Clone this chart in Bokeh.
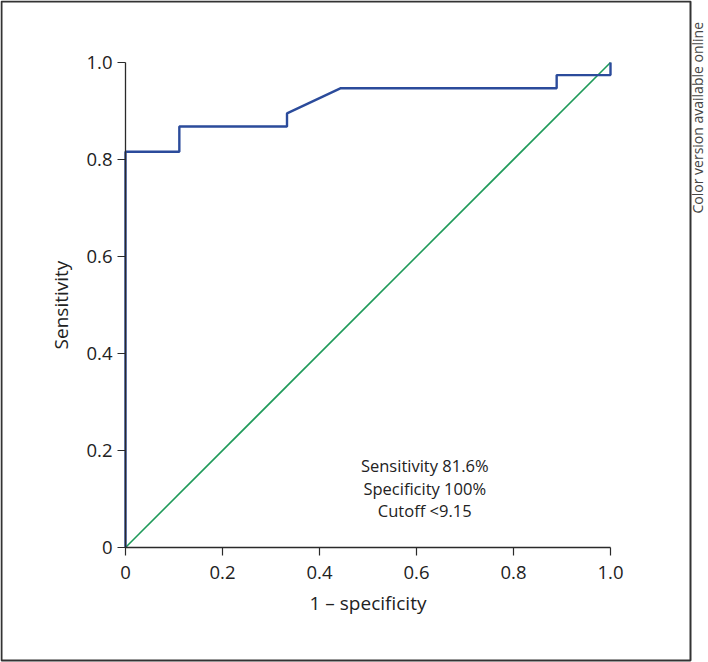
import math
from bokeh.plotting import figure
from bokeh.models import Range1d, FixedTicker, Label, BoxAnnotation
from bokeh.embed import file_html
from bokeh.resources import INLINE

# ROC curve (1 - specificity, sensitivity)
fpr = [0.0, 0.0, 0.111, 0.111, 0.333, 0.333, 0.444, 0.889, 0.889, 1.0, 1.0]
tpr = [0.0, 0.816, 0.816, 0.868, 0.868, 0.895, 0.947, 0.947, 0.974, 0.974, 1.0]
ref_x = [0.0, 1.0]
ref_y = [0.0, 1.0]
ticks = [0, 0.2, 0.4, 0.6, 0.8, 1.0]
tick_labels = {0: "0", 0.2: "0.2", 0.4: "0.4", 0.6: "0.6", 0.8: "0.8", 1.0: "1.0"}
annotation = ["Sensitivity 81.6%", "Specificity 100%", "Cutoff <9.15"]
side_note = "Color version available online"

FONT = "Open Sans"
W, H = 708, 662
# pixel layout targets of the data box (0..1 on both axes)
PL, PR, PT, PB = 125, 610, 62, 547
sx = (PR - PL)
sy = (PB - PT)
x0 = -PL / sx
x1 = (W - PL) / sx
y0 = -(H - PB) / sy
y1 = 1 + PT / sy

p = figure(width=W, height=H, output_backend="svg", toolbar_location=None,
           x_range=Range1d(x0, x1), y_range=Range1d(y0, y1),
           min_border_left=0, min_border_right=0, min_border_top=0, min_border_bottom=0)
p.outline_line_color = None
p.grid.visible = False
p.background_fill_color = "white"
p.border_fill_color = "white"

for ax in (p.xaxis[0], p.yaxis[0]):
    ax.ticker = FixedTicker(ticks=ticks)
    ax.major_label_overrides = tick_labels
    ax.bounds = (0, 1)
    ax.fixed_location = 0
    ax.axis_line_color = "#2a2a2a"
    ax.axis_line_width = 1.3
    ax.major_tick_line_color = "#2a2a2a"
    ax.major_tick_line_width = 1.2
    ax.major_tick_in = 0
    ax.major_tick_out = 8
    ax.minor_tick_line_color = None
    ax.major_label_text_font = FONT
    ax.major_label_text_font_size = "18.5px"
    ax.major_label_text_color = "#222222"
    ax.axis_label_text_font = FONT
    ax.axis_label_text_font_size = "19px"
    ax.axis_label_text_font_style = "normal"
    ax.axis_label_text_color = "#222222"

p.xaxis.axis_label = "1 \u2013 specificity"
p.yaxis.axis_label = "Sensitivity"
p.xaxis.major_label_standoff = 10
p.yaxis.major_label_standoff = 5
p.xaxis.axis_label_standoff = 8
p.yaxis.axis_label_standoff = 9

p.line(ref_x, ref_y, line_color="#1f9a5a", line_width=1.6)
p.line(fpr, tpr, line_color="#2b4b9b", line_width=2.4)

for i, t in enumerate(annotation):
    p.add_layout(Label(x=0.617, y=0.169 - i * 0.0465, text=t, text_align="center",
                       text_baseline="middle", text_font=FONT, text_font_size="16.5px",
                       text_color="#222222"))

# outer frame border (screen units measured from the frame's lower-left corner)
p.add_layout(BoxAnnotation(left=1, right=690, bottom=2, top=H - 1,
                           left_units="screen", right_units="screen",
                           bottom_units="screen", top_units="screen",
                           fill_color=None, fill_alpha=0,
                           line_color="#333333", line_alpha=1.0, line_width=2))

p.add_layout(Label(x=697, y=H - 213, x_units="screen", y_units="screen", text=side_note,
                   angle=math.pi / 2, text_align="left", text_baseline="middle",
                   text_font=FONT, text_font_size="14px", text_color="#444444"))

open("out.html", "w").write(file_html(p, INLINE))
